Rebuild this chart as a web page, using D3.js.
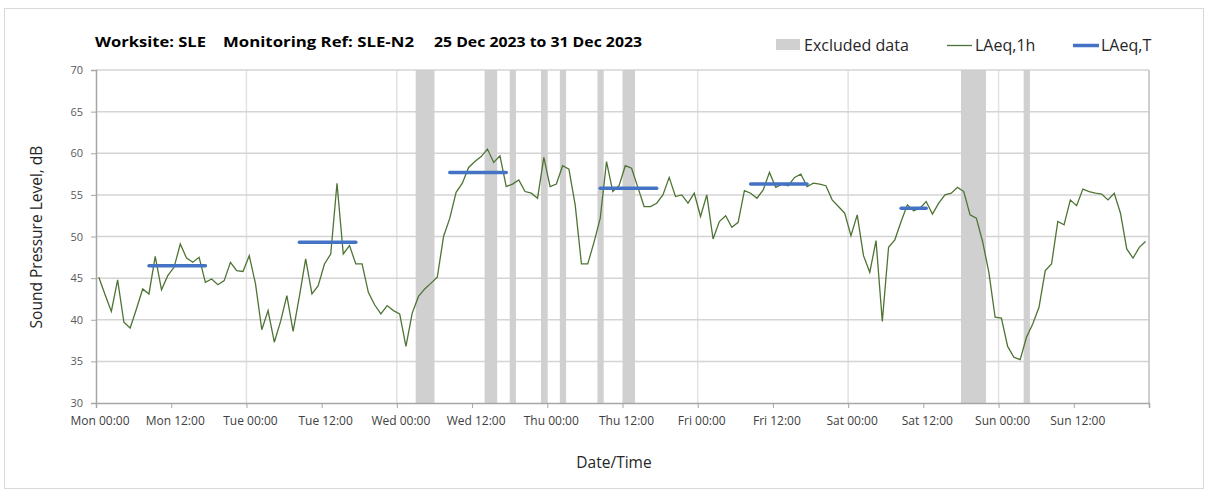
<!DOCTYPE html>
<html>
<head>
<meta charset="utf-8">
<script src="https://cdn.jsdelivr.net/npm/d3@7"></script>
<style>
  body { margin: 0; background: #fff; }
  text { font-family: "Open Sans", "Noto Sans", sans-serif; }
</style>
</head>
<body>
<svg id="chart" width="1208" height="493"></svg>
<script>
// hourly LAeq,1h values, Mon 00:00 .. Sun 23:00
const laeq1h = [
  45.1, 43.0, 41.0, 44.8, 39.7, 39.0, 41.3, 43.7, 43.1, 47.6, 43.6, 45.3,
  46.3, 49.1, 47.4, 46.9, 47.5, 44.5, 44.9, 44.2, 44.7, 46.9, 45.9, 45.8,
  47.7, 44.3, 38.8, 41.1, 37.3, 39.8, 42.9, 38.6, 42.8, 47.3, 43.1, 44.1,
  46.7, 47.9, 56.4, 47.9, 48.9, 46.7, 46.7, 43.3, 41.8, 40.7, 41.7, 41.1,
  40.7, 36.8, 40.8, 42.8, 43.7, 44.4, 45.1, 50.0, 52.2, 55.3, 56.4, 58.3,
  59.0, 59.6, 60.5, 58.9, 59.7, 56.0, 56.3, 56.8, 55.4, 55.2, 54.6, 59.5,
  56.0, 56.3, 58.5, 58.1, 53.8, 46.7, 46.7, 49.3, 52.2, 59.0, 55.4, 56.1,
  58.5, 58.2, 55.9, 53.6, 53.6, 54.0, 55.0, 57.1, 54.8, 55.0, 54.0, 55.2,
  52.4, 55.0, 49.7, 51.8, 52.5, 51.1, 51.7, 55.5, 55.2, 54.6, 55.6, 57.7,
  55.9, 56.3, 56.1, 57.1, 57.5, 56.0, 56.4, 56.3, 56.1, 54.4, 53.6, 52.8,
  50.1, 52.6, 47.7, 45.7, 49.5, 39.8, 48.7, 49.6, 51.8, 53.8, 53.1, 53.4,
  54.2, 52.7, 54.0, 55.0, 55.2, 55.9, 55.4, 52.6, 52.2, 49.4, 45.7, 40.3,
  40.2, 36.8, 35.5, 35.2, 37.9, 39.5, 41.5, 45.9, 46.7, 51.8, 51.4, 54.4,
  53.7, 55.7, 55.4, 55.2, 55.1, 54.4, 55.2, 52.8, 48.5, 47.4, 48.7, 49.4
]

// LAeq,T periods (hour index from / to) and level
const periodStart = [8, 32, 56, 80, 104, 128]
const periodEnd = [17, 41, 65, 89, 113, 132]
const periodLevel = [46.5, 49.3, 57.7, 55.8, 56.3, 53.4]

// excluded data (hours from Mon 00:00)
const excludedStart = [51, 62, 66, 71, 74, 80, 84, 138, 148]
const excludedEnd = [54, 64, 67, 72, 75, 81, 86, 142, 149]

const tickLabels = ["Mon 00:00", "Mon 12:00", "Tue 00:00", "Tue 12:00", "Wed 00:00", "Wed 12:00",
  "Thu 00:00", "Thu 12:00", "Fri 00:00", "Fri 12:00", "Sat 00:00", "Sat 12:00", "Sun 00:00", "Sun 12:00"]
const yTicks = [30, 35, 40, 45, 50, 55, 60, 65, 70]

const svg = d3.select("#chart")
const plotLeft = 96, plotRight = 1149, plotTop = 70, plotBottom = 403
const x = d3.scaleLinear().domain([0, 168]).range([plotLeft, plotRight])
const y = d3.scaleLinear().domain([30, 70]).range([plotBottom, plotTop])
const offset = 0.45 // points sit a bit into each hour

// outer border
svg.append("rect")
  .attr("x", 4.5).attr("y", 8.5)
  .attr("width", 1199).attr("height", 480)
  .attr("fill", "none").attr("stroke", "#d9d9d9")

// gridlines
svg.append("g")
  .selectAll("line")
  .data([24, 48, 72, 96, 120, 144])
  .join("line")
  .attr("x1", d => x(d)).attr("x2", d => x(d))
  .attr("y1", plotTop).attr("y2", plotBottom)
  .attr("stroke", "#e2e2e2").attr("stroke-width", 1.5)

svg.append("g")
  .selectAll("line")
  .data(yTicks.slice(1))
  .join("line")
  .attr("x1", plotLeft).attr("x2", plotRight)
  .attr("y1", d => y(d)).attr("y2", d => y(d))
  .attr("stroke", "#d4d4d4").attr("stroke-width", 1.5)

// excluded bands
svg.append("g")
  .selectAll("rect")
  .data(excludedStart)
  .join("rect")
  .attr("x", d => x(d))
  .attr("width", (d, i) => x(excludedEnd[i]) - x(d))
  .attr("y", plotTop)
  .attr("height", plotBottom - plotTop)
  .attr("fill", "#d0d0d0")

// right edge
svg.append("line")
  .attr("x1", plotRight).attr("x2", plotRight)
  .attr("y1", plotTop).attr("y2", plotBottom)
  .attr("stroke", "#bfbfbf").attr("stroke-width", 1.5)

// axes
const xAxis = d3.axisBottom(x)
  .tickValues(d3.range(0, 169, 12))
  .tickSize(5)
  .tickFormat("")
const gx = svg.append("g").attr("transform", `translate(0,${plotBottom})`).call(xAxis)
gx.select(".domain").attr("stroke", "#a6a6a6").attr("stroke-width", 1.5)
gx.selectAll(".tick line").attr("stroke", "#a6a6a6")

svg.append("g")
  .selectAll("text")
  .data(tickLabels)
  .join("text")
  .attr("x", (d, i) => x(i * 12) + 4)
  .attr("y", 425)
  .attr("text-anchor", "middle")
  .attr("font-size", 12)
  .attr("fill", "#404040")
  .text(d => d)

const yAxis = d3.axisLeft(y).tickValues(yTicks).tickSize(5).tickPadding(8)
const gy = svg.append("g").attr("transform", `translate(${plotLeft},0)`).call(yAxis)
gy.select(".domain").attr("stroke", "#a6a6a6").attr("stroke-width", 1.5)
gy.selectAll(".tick line").attr("stroke", "#a6a6a6")
gy.selectAll(".tick text")
  .attr("font-family", "Open Sans")
  .attr("font-size", 11)
  .attr("fill", "#595959")

// LAeq,1h line
const line = d3.line()
  .x((d, i) => x(i + offset))
  .y(d => y(d))
svg.append("path")
  .datum(laeq1h)
  .attr("d", line)
  .attr("fill", "none")
  .attr("stroke", "#4e7434")
  .attr("stroke-width", 1.3)

// LAeq,T segments
svg.append("g")
  .selectAll("line")
  .data(periodLevel)
  .join("line")
  .attr("x1", (d, i) => x(periodStart[i] + offset))
  .attr("x2", (d, i) => x(periodEnd[i] + offset))
  .attr("y1", d => y(d)).attr("y2", d => y(d))
  .attr("stroke", "#4472c4")
  .attr("stroke-width", 3.5)
  .attr("stroke-linecap", "round")

// title
const titleParts = ["Worksite: SLE", "Monitoring Ref: SLE-N2", "25 Dec 2023 to 31 Dec 2023"]
const titleX = [95, 223, 434]
const titleW = [111, 191, 208]
svg.append("g")
  .selectAll("text")
  .data(titleParts)
  .join("text")
  .attr("x", (d, i) => titleX[i])
  .attr("y", 47)
  .attr("font-size", 14)
  .attr("font-weight", "bold")
  .attr("fill", "#000")
  .attr("textLength", (d, i) => titleW[i])
  .attr("lengthAdjust", "spacingAndGlyphs")
  .text(d => d)

// legend
const lg = svg.append("g").attr("font-size", 16).attr("fill", "#262626")
lg.append("rect").attr("x", 776).attr("y", 39).attr("width", 24).attr("height", 11).attr("fill", "#d0d0d0")
lg.append("text").attr("x", 804).attr("y", 51).text("Excluded data")
lg.append("line").attr("x1", 947).attr("x2", 972).attr("y1", 45.5).attr("y2", 45.5)
  .attr("stroke", "#4e7434").attr("stroke-width", 1.3)
lg.append("text").attr("x", 975).attr("y", 51).text("LAeq,1h")
lg.append("line").attr("x1", 1073).attr("x2", 1099).attr("y1", 45.5).attr("y2", 45.5)
  .attr("stroke", "#4472c4").attr("stroke-width", 3.5)
lg.append("text").attr("x", 1101).attr("y", 51).text("LAeq,T")

// axis titles
svg.append("text")
  .attr("transform", "translate(42,237) rotate(-90)")
  .attr("text-anchor", "middle")
  .attr("font-size", 15.5)
  .attr("fill", "#262626")
  .text("Sound Pressure Level, dB")

svg.append("text")
  .attr("x", 614).attr("y", 468)
  .attr("text-anchor", "middle")
  .attr("font-size", 15.5)
  .attr("fill", "#262626")
  .text("Date/Time")
</script>
</body>
</html>
